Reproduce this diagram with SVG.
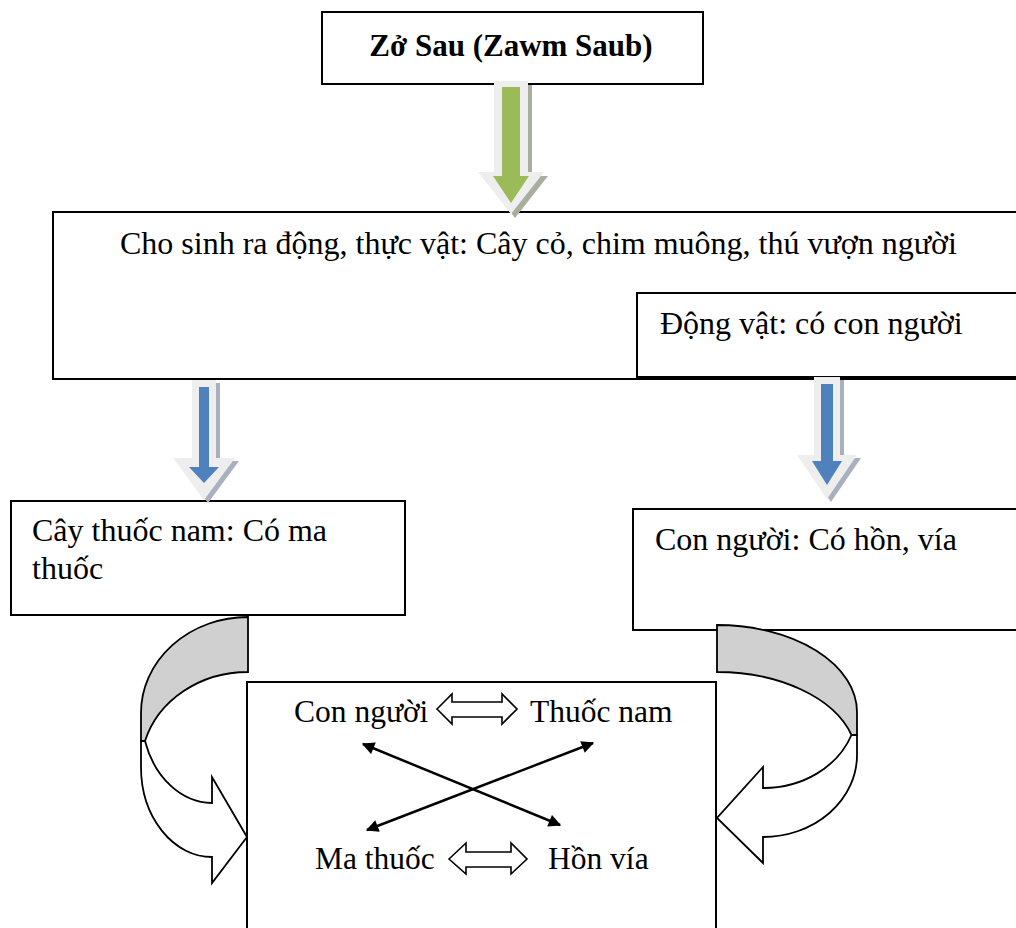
<svg xmlns="http://www.w3.org/2000/svg" width="1016" height="928" viewBox="0 0 1016 928">
  <style>
    .box { fill: #ffffff; stroke: #000000; stroke-width: 2; }
    .t { font-family: "Liberation Serif", "Times New Roman", serif; font-size: 31.5px; fill: #000000; }
    .tl { font-family: "Liberation Serif", "Times New Roman", serif; font-size: 32px; fill: #000000; }
    .tb { font-family: "Liberation Serif", "Times New Roman", serif; font-size: 31px; font-weight: bold; fill: #000000; }
    .glow { fill: #eeeeee; }
    .shg { fill: #a8af9c; }
    .shb { fill: #a9b1bf; }
    .green { fill: #9bbb59; }
    .blue { fill: #4f81bd; }
    .back { fill: #d0d0d0; stroke: #000000; stroke-width: 1.8; stroke-linejoin: miter; }
    .front { fill: #ffffff; stroke: #000000; stroke-width: 1.8; stroke-linejoin: miter; }
    .dbl { fill: #ffffff; stroke: #000000; stroke-width: 1.6; }
    .cross { stroke: #000000; stroke-width: 2.5; fill: none; marker-start: url(#ah); marker-end: url(#ah); }
  </style>
  <defs>
    <marker id="ah" viewBox="0 0 10 10" refX="9" refY="5" markerWidth="6" markerHeight="5" orient="auto-start-reverse" markerUnits="strokeWidth">
      <path d="M0,0 L10,5 L0,10 Z" fill="#000000"/>
    </marker>
  </defs>
  <rect x="0" y="0" width="1016" height="928" fill="#ffffff"/>

  <g id="node-zo-sau">
    <rect class="box" x="322" y="12" width="381" height="72"/>
    <text class="tb" x="511" y="56" text-anchor="middle">Zở Sau (Zawm Saub)</text>
  </g>

  <g id="node-cho-sinh">
    <rect class="box" x="53" y="212" width="990" height="167"/>
    <text class="tl" x="120" y="254">Cho sinh ra động, thực vật: Cây cỏ, chim muông, thú vượn người</text>
  </g>

  <g id="node-dong-vat">
    <rect class="box" x="637" y="293" width="400" height="84"/>
    <text class="tl" x="660" y="334">Động vật: có con người</text>
  </g>

  <g id="node-cay-thuoc">
    <rect class="box" x="11" y="501" width="394" height="114"/>
    <text class="tl" x="32" y="541">Cây thuốc nam: Có ma</text>
    <text class="tl" x="32" y="579">thuốc</text>
  </g>

  <g id="node-con-nguoi">
    <rect class="box" x="633" y="509" width="400" height="121"/>
    <text class="tl" x="655" y="550">Con người: Có hồn, vía</text>
  </g>

  <g id="node-center">
    <rect class="box" x="247" y="682" width="469" height="260"/>
    <text class="t" x="294" y="722">Con người</text>
    <text class="t" x="530" y="722">Thuốc nam</text>
    <text class="t" x="315" y="869">Ma thuốc</text>
    <text class="t" x="548" y="869">Hồn vía</text>
  </g>

  <g id="connectors">
    <g id="arrow-green">
      <polygon class="shg" points="498,85 532,85 532,176 548,176 515,218 482,176 498,176"/>
      <polygon class="glow" points="494,81 528,81 528,172 544,172 511,214 478,172 494,172"/>
      <polygon class="green" points="502,87 520,87 520,176 529,176 511,203 493,176 502,176"/>
    </g>
    <g id="arrow-blue-left">
      <polygon class="shb" points="196,383 220,383 220,461 239,461 208,503 177,461 196,461"/>
      <polygon class="glow" points="192,380 216,380 216,458 235,458 204,500 173,458 192,458"/>
      <polygon class="blue" points="199,387 209,387 209,467 219,467 204,483 189,467 199,467"/>
    </g>
    <g id="arrow-blue-right">
      <polygon class="shb" points="818,380 844,380 844,458 861,458 831,502 801,458 818,458"/>
      <polygon class="glow" points="814,377 840,377 840,455 857,455 827,499 797,455 814,455"/>
      <polygon class="blue" points="821,384 833,384 833,461 842,461 827,485 812,461 821,461"/>
    </g>

    <g id="curved-left">
      <path class="back" d="M248,617 A107,96 0 0 0 141,713 L141,741 L145,741 A107,96 0 0 1 248,672 Z"/>
      <path class="front" d="M141,741 L141,767 A71,90 0 0 0 212,857 L212,883 L247,837 L212,777 L212,803 A71,90 0 0 1 145,741 Z"/>
    </g>
    <g id="curved-right">
      <path class="back" d="M717,625 A140,87 0 0 1 857,712 L857,735 L851.5,735 A140,87 0 0 0 717,672 Z"/>
      <path class="front" d="M857,735 L857,755 A94,82 0 0 1 763,837 L763,863 L717,818 L763,767 L763,788 A94,82 0 0 0 851.5,735 Z"/>
    </g>

    <path class="dbl" d="M437,709 L452,694 L452,702 L502,702 L502,694 L517,709 L502,724 L502,717 L452,717 L452,724 Z"/>
    <path class="dbl" d="M449,859 L466,843 L466,852 L511,852 L511,843 L527,859 L511,874 L511,867 L466,867 L466,874 Z"/>

    <line class="cross" x1="363" y1="744" x2="560" y2="825"/>
    <line class="cross" x1="593" y1="743" x2="367" y2="830"/>
  </g>
</svg>
